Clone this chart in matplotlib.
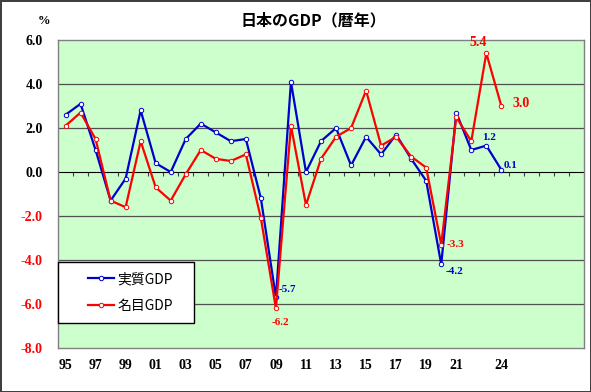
import numpy as np
import matplotlib
matplotlib.use("Agg")
import matplotlib.pyplot as plt
from matplotlib.legend_handler import HandlerLine2D

# data (annual % change)
years = list(range(1995, 2025))
real_gdp = [2.6, 3.1, 1.0, -1.3, -0.3, 2.8, 0.4, 0.0, 1.5, 2.2,
            1.8, 1.4, 1.5, -1.2, -5.7, 4.1, 0.0, 1.4, 2.0, 0.3,
            1.6, 0.8, 1.7, 0.6, -0.4, -4.2, 2.7, 1.0, 1.2, 0.1]
nominal_gdp = [2.1, 2.7, 1.5, -1.3, -1.6, 1.4, -0.7, -1.3, -0.1, 1.0,
               0.6, 0.5, 0.8, -2.1, -6.2, 2.1, -1.5, 0.6, 1.6, 2.0,
               3.7, 1.2, 1.6, 0.7, 0.2, -3.3, 2.5, 1.4, 5.4, 3.0]
n_slots = 35  # category axis runs past the data (1995..2029)
xtick_years = [1995, 1997, 1999, 2001, 2003, 2005, 2007, 2009,
               2011, 2013, 2015, 2017, 2019, 2021, 2024]
yticks = [6, 4, 2, 0, -2, -4, -6, -8]

# labelled points: (year, offset in points, size, ha)
labels_real = [(2009, (2, 6), 8, "left"), (2020, (3, -5), 8, "left"),
               (2023, (2, 6), 8, "center"), (2024, (2, 3), 8, "left")]
labels_nom = [(2009, (3, -10), 8, "center"), (2020, (4, 0), 8, "left"),
              (2023, (-6, 8), 10, "center"), (2024, (8, 2), 10, "left")]

BLUE = "#0000CC"
RED = "#FF0000"
SERIF = "Liberation Serif"
CJK = ["Noto Sans CJK JP", "DejaVu Sans"]

fig = plt.figure(figsize=(5.91, 3.92), dpi=100)
fig.patch.set_facecolor("white")
fig.patch.set_edgecolor("#404040")
fig.patch.set_linewidth(2)
ax = fig.add_axes([58 / 591, 44 / 392, 526 / 591, 308 / 392])
ax.set_facecolor("#CCFFCC")

x = np.arange(len(years))
ax.plot(x, real_gdp, color=BLUE, lw=1.6, marker="o", ms=3.2, mfc="white",
        mec=BLUE, mew=0.7, label="実質GDP", zorder=3)
ax.plot(x, nominal_gdp, color=RED, lw=1.6, marker="o", ms=3.2, mfc="white",
        mec=RED, mew=0.7, label="名目GDP", zorder=4)

ax.set_xlim(-0.5, n_slots - 0.5)
ax.set_ylim(-8, 6)
ax.set_yticks(yticks)
ax.set_yticklabels([f"{v:.1f}" for v in yticks], fontfamily=SERIF,
                   fontweight="bold", fontsize=10)
for t, v in zip(ax.get_yticklabels(), yticks):
    t.set_color(RED if v < 0 else "black")
ax.tick_params(axis="y", length=0, pad=11)
ax.set_xticks([years.index(y) for y in xtick_years])
ax.set_xticklabels([f"{y % 100:02d}" for y in xtick_years], fontfamily=SERIF,
                   fontweight="bold", fontsize=10)
ax.tick_params(axis="x", length=0, pad=8)

for v in [4, 2, -2, -4, -6]:
    ax.axhline(v, color="#505050", lw=0.9, zorder=1)
for s in ax.spines.values():
    s.set_color("#808080")
    s.set_linewidth(1)

# zero line with category tick marks
zero = ax.secondary_xaxis(8 / 14)
zero.set_xticks(np.arange(0.5, n_slots - 0.5, 1.0))
zero.set_xticklabels([])
zero.tick_params(direction="in", length=3, width=0.8, color="#404040")
zero.spines["bottom"].set_color("#404040")
zero.spines["bottom"].set_linewidth(1)

for yr, off, fs, ha in labels_real:
    i = years.index(yr)
    v = real_gdp[i]
    ax.annotate(f"{v:.1f}", (i, v), xytext=off, textcoords="offset points",
                color=BLUE, fontfamily=SERIF, fontweight="bold", fontsize=fs,
                ha=ha, va="center", zorder=5)
for yr, off, fs, ha in labels_nom:
    i = years.index(yr)
    v = nominal_gdp[i]
    ax.annotate(f"{v:.1f}", (i, v), xytext=off, textcoords="offset points",
                color=RED, fontfamily=SERIF, fontweight="bold", fontsize=fs,
                ha=ha, va="center", zorder=5)

leg = ax.legend(loc="lower left", bbox_to_anchor=(0, 0.081, 0.2586, 0.208),
                mode="expand", borderaxespad=0, fancybox=False, framealpha=1,
                edgecolor="black", prop={"family": CJK, "size": 10},
                handlelength=3.3, handletextpad=0.3, borderpad=0.7,
                labelspacing=0.95,
                handler_map={l: HandlerLine2D(xpad=1.45) for l in ax.get_lines()})
leg.get_frame().set_linewidth(1)
leg.set_zorder(6)

fig.text(313 / 591, 1 - 20 / 392, "日本のGDP（暦年）", fontfamily=CJK,
         fontweight="bold", fontsize=11.5, ha="center", va="center")
fig.text(44 / 591, 1 - 21 / 392, "%", fontfamily=SERIF, fontweight="bold",
         fontsize=9, ha="center", va="center")

fig.savefig("out.png", dpi=100, facecolor=fig.get_facecolor(),
            edgecolor=fig.get_edgecolor())
